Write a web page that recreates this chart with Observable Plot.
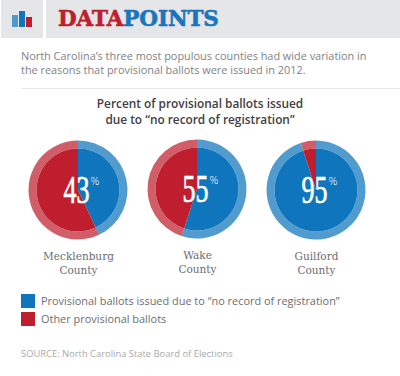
<!DOCTYPE html>
<html><head><meta charset="utf-8">
<script src="https://cdn.jsdelivr.net/npm/d3@7"></script>
<script src="https://cdn.jsdelivr.net/npm/@observablehq/plot@0.6"></script>
<style>
html,body{margin:0;padding:0;background:#fff;width:400px;height:376px;overflow:hidden;font-family:"Open Sans",sans-serif}
.abs{position:absolute;white-space:nowrap}
#chart{position:absolute;left:0;top:130px}
#chart svg{display:block;background:transparent}
</style></head><body>
<div class="abs" style="left:1px;top:0;width:42px;height:38px;background:#e5e6e8"></div>
<div class="abs" style="left:46px;top:0;width:354px;height:38px;background:#e5e6e8"></div>
<div class="abs" style="left:12px;top:15px;width:6px;height:12px;background:#4f9bd0"></div>
<div class="abs" style="left:19px;top:11px;width:6px;height:16px;background:#0f75bc"></div>
<div class="abs" style="left:26px;top:17px;width:6px;height:10px;background:#be1e2d"></div>
<div class="abs" id="brand" style="left:58px;top:5px;font:900 21.5px/28px 'DejaVu Serif';-webkit-text-stroke:0.6px currentColor;letter-spacing:-0.1px"><span style="color:#be1e2d">DATA</span><span style="color:#1b75bc">POINTS</span></div>
<div class="abs" style="left:21px;top:49px;font:400 10.9px/14.2px 'Open Sans';color:#808285">North Carolina’s three most populous counties had wide variation in<br>the reasons that provisional ballots were issued in 2012.</div>
<div class="abs" style="left:21px;top:88px;width:379px;height:1px;background:#e6e7e8"></div>
<div class="abs" style="left:0;width:400px;top:96px;text-align:center;font:600 11.85px/15.5px 'Open Sans';color:#414042">Percent of provisional ballots issued<br>due to “no record of registration”</div>
<div id="chart"></div>
<div class="abs" style="left:21px;top:294px;width:14px;height:14px;background:#0f75bc"></div>
<div class="abs" style="left:21px;top:312px;width:14px;height:14px;background:#be1e2d"></div>
<div class="abs" style="left:41px;top:294px;font:400 10.93px/14px 'Open Sans';color:#6d6e71">Provisional ballots issued due to “no record of registration”</div>
<div class="abs" style="left:41px;top:312px;font:400 10.93px/14px 'Open Sans';color:#6d6e71">Other provisional ballots</div>
<div class="abs" style="left:21px;top:347px;font:400 9.4px/13px 'Open Sans';color:#a7a9ac">SOURCE: North Carolina State Board of Elections</div>
<script>
const counties = ["Mecklenburg", "Wake", "Guilford"];
const noRecordShare = [43, 55, 95];
const labels = ["Mecklenburg\nCounty", "Wake\nCounty", "Guilford\nCounty"];
const seriesNames = ["No record of registration", "Other"];
const seriesColors = ["#0f75bc", "#be1e2d"];

const centerY = [60, 59, 60];
const rows = counties.map((county, i) => ({county, share: noRecordShare[i], label: labels[i], cy: centerY[i]}));
const slices = rows.flatMap(r => [
  {...r, series: seriesNames[0], from: 0, to: r.share},
  {...r, series: seriesNames[1], from: r.share, to: 100}
]);
const angle = d3.scaleLinear([0, 100], [0, 2 * Math.PI]);

function ring(inner, outer, opacity) {
  return Plot.dot(slices, {
    x: "county", y: "cy", fill: "series",
    render(index, scales, values) {
      const g = d3.create("svg:g");
      const arc = d3.arc().innerRadius(inner).outerRadius(outer);
      for (const i of index) {
        const s = slices[i];
        g.append("path")
          .attr("transform", `translate(${values.x[i]},${values.y[i]})`)
          .attr("d", arc({startAngle: angle(s.from), endAngle: angle(s.to)}))
          .attr("fill", values.fill[i])
          .attr("fill-opacity", opacity);
      }
      return g.node();
    }
  });
}
function squeezeTo(widthOf) {
  return function(index, scales, values, dims, ctx, next) {
    const g = next(index, scales, values, dims, ctx);
    d3.select(g).selectAll("text").each(function() {
      this.setAttribute("textLength", widthOf);
      this.setAttribute("lengthAdjust", "spacingAndGlyphs");
    });
    return g;
  };
}

const chart = Plot.plot({
  width: 400, height: 150,
  margin: 0,
  style: {background: "transparent", overflow: "visible"},
  x: {type: "point", domain: counties, range: [77, 316], padding: 0, axis: null},
  y: {type: "identity", axis: null},
  color: {domain: seriesNames, range: seriesColors},
  marks: [
    ring(41.5, 49.5, 0.72),
    ring(0, 41.5, 1),
    Plot.text(rows, {
      x: "county", y: "cy", text: d => String(d.share), dx: -2, dy: 0,
      fill: "white", stroke: "white", strokeWidth: 0.7, fontSize: 39,
      fontFamily: "'Liberation Sans Narrow'", render: squeezeTo(26)
    }),
    Plot.text(rows, {
      x: "county", y: "cy", text: () => "%", dx: 16.5, dy: -9,
      fill: "white", fontSize: 11, fontFamily: "'Open Sans'", fontWeight: 300
    }),
    Plot.text(rows, {
      x: "county", y: d => d.cy + 72, text: "label", lineHeight: 1.35,
      fill: "#6d6e71", fontSize: 10.5, fontFamily: "'DejaVu Serif'"
    })
  ]
});
document.getElementById("chart").appendChild(chart);
</script>
</body></html>
